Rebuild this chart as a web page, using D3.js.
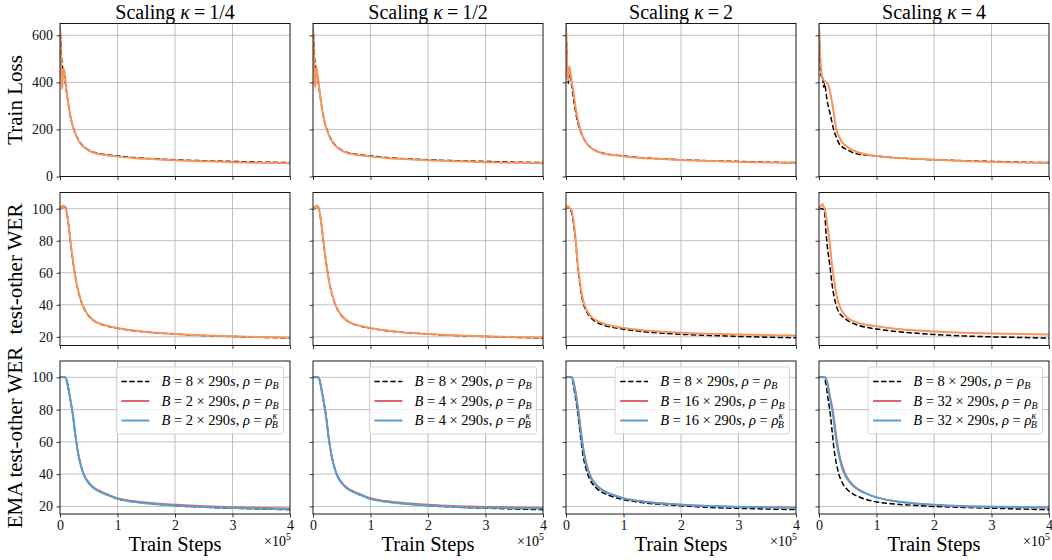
<!DOCTYPE html>
<html>
<head>
<meta charset="utf-8">
<script src="https://cdn.jsdelivr.net/npm/d3@7"></script>
<style>
  body { margin: 0; background: #fff; }
  svg, svg text { font-family: "Liberation Serif", "Times New Roman", serif; }
</style>
</head>
<body>
<script>
// train steps (x 1e5), shared by every curve
var steps = [0, 0.01, 0.02, 0.03, 0.04, 0.05, 0.06, 0.08, 0.1, 0.12, 0.14, 0.16, 0.18, 0.2, 0.23, 0.26, 0.3,
  0.35, 0.4, 0.45, 0.5, 0.6, 0.7, 0.85, 1.0, 1.25, 1.5, 1.75, 2.0, 2.5, 3.0, 3.5, 4.0];

// column headers / legend batch multipliers
var kappaLabels = ["1/4", "1/2", "2", "4"];
var batchMult = [2, 4, 16, 32];
var rowLabels = ["Train Loss", "test-other WER", "EMA test-other WER"];
var xTicks = [0, 1, 2, 3, 4];
var lossTicks = [0, 200, 400, 600];
var werTicks = [20, 40, 60, 80, 100];

// Train loss
var lossBlack1 = [640, 600, 540, 490, 470, 460, 450, 420, 385, 350, 315, 285, 258, 235, 208, 188, 165, 145, 130, 120, 112, 102, 96, 91, 87, 81, 77, 74, 71, 67, 64, 61, 59];
var lossOrange1 = [640, 560, 470, 400, 372, 430, 460, 440, 400, 355, 318, 287, 258, 235, 207, 186, 163, 142, 128, 118, 110, 100, 94, 89, 85, 79, 75, 72, 69, 65, 61, 58, 56];
var lossBlack2 = [640, 600, 540, 490, 470, 460, 450, 420, 385, 350, 315, 285, 258, 235, 208, 188, 165, 145, 130, 120, 112, 102, 96, 91, 87, 81, 77, 74, 71, 67, 64, 61, 59];
var lossOrange2 = [645, 560, 470, 390, 380, 440, 466, 430, 395, 355, 318, 285, 257, 233, 206, 185, 162, 142, 128, 118, 110, 100, 94, 89, 85, 79, 75, 72, 69, 65, 61, 58, 56];
var lossBlack3 = [640, 560, 480, 420, 395, 420, 440, 420, 385, 350, 315, 285, 258, 235, 208, 188, 165, 145, 130, 120, 112, 102, 96, 91, 87, 81, 77, 74, 71, 67, 64, 61, 59];
var lossOrange3 = [640, 560, 470, 420, 410, 450, 466, 440, 400, 372, 340, 305, 275, 248, 218, 192, 165, 144, 129, 119, 111, 101, 95, 90, 86, 80, 76, 73, 70, 66, 62, 59, 57];
var lossBlack4 = [640, 560, 480, 440, 424, 424, 430, 380, 395, 360, 325, 300, 280, 260, 225, 195, 168, 140, 127, 118, 112, 100, 94, 90, 87, 81, 77, 74, 71, 67, 64, 61, 59];
var lossOrange4 = [640, 580, 520, 480, 450, 430, 420, 410, 405, 400, 396, 390, 375, 350, 310, 265, 200, 170, 146, 134, 125, 110, 101, 92, 87, 81, 77, 74, 71, 66, 62, 59, 57];

// test-other WER
var werBlack1 = [100, 100, 100.5, 100, 101, 100.5, 101, 101.5, 100.5, 97, 92, 86.5, 80, 74, 66, 59, 51, 44, 39, 35.5, 33, 29.8, 28, 26.5, 25.4, 24, 23, 22.3, 21.7, 20.8, 20.2, 19.7, 19.3];
var werOrange1 = [100, 101, 100, 101.5, 100.5, 101, 102, 101, 100, 97.5, 92.5, 87, 80.5, 74.5, 66.5, 59, 51.5, 44.5, 39.3, 35.8, 33.2, 30, 28.2, 26.6, 25.5, 24.1, 23.1, 22.4, 21.8, 20.9, 20.3, 19.9, 19.5];
var werBlack2 = [100, 100, 100.5, 100, 101, 100.5, 101, 101.5, 100.5, 97, 92, 86.5, 80, 74, 66, 59, 51, 44, 39, 35.5, 33, 29.8, 28, 26.5, 25.4, 24, 23, 22.3, 21.7, 20.8, 20.2, 19.7, 19.3];
var werOrange2 = [100, 100.5, 101, 100.5, 101.5, 101, 102, 101.5, 100, 97, 92, 86.5, 80, 74, 66, 58.5, 51, 44.2, 39.2, 35.8, 33.2, 30, 28.1, 26.6, 25.5, 24.1, 23.1, 22.4, 21.8, 20.9, 20.3, 19.9, 19.6];
var werBlack3 = [100, 100.5, 101, 100.5, 101, 100.5, 100, 99, 97.5, 93.5, 88, 82, 74.5, 65.5, 56, 48, 41, 36.3, 33.3, 31.3, 29.8, 28, 26.8, 25.6, 24.8, 23.6, 22.7, 22.1, 21.6, 20.9, 20.3, 19.8, 19.4];
var werOrange3 = [100, 100.5, 101.5, 101, 101.5, 101, 100.5, 100, 99, 95, 90, 84, 76, 67, 58, 50, 42.5, 37.5, 34.3, 32.3, 30.8, 29, 27.7, 26.5, 25.6, 24.5, 23.6, 23, 22.5, 21.9, 21.5, 21.1, 20.8];
var werBlack4 = [100, 100, 100, 100, 100, 100, 100, 99.5, 97, 86, 78, 72, 67, 61, 52, 45.5, 39.5, 35, 33, 31.5, 30.2, 28.3, 27, 25.8, 24.9, 23.7, 22.8, 22.1, 21.5, 20.6, 20, 19.6, 19.2];
var werOrange4 = [100, 100.5, 101, 101.5, 102, 102.5, 103, 101, 100, 96, 91, 86.5, 80, 74, 64, 56, 47, 40, 36, 33.5, 31.8, 29.8, 28.5, 27.4, 26.6, 25.4, 24.5, 23.9, 23.3, 22.6, 22.1, 21.8, 21.5];

// EMA test-other WER
var emaBlack1 = [100, 100, 100, 100, 100, 100, 100, 100, 99.5, 97.5, 94, 90, 86, 82, 75, 66, 56, 47, 41, 37, 34.5, 31, 29, 26.8, 24.7, 23, 22, 21.2, 20.5, 19.5, 18.9, 18.4, 18];
var emaRed1 = [100, 100, 100, 100, 100, 100, 100, 100, 99.6, 98, 94.5, 90.5, 86.5, 82.5, 75.5, 66.5, 56.5, 47.5, 41.5, 37.5, 35, 31.5, 29.5, 27.2, 25.2, 23.5, 22.5, 21.7, 21.1, 20.2, 19.6, 19.2, 18.9];
var emaBlue1 = [100, 100, 100, 100, 100, 100, 100, 100, 99.5, 97.6, 94, 90, 86, 82, 75, 66, 56, 47, 41, 37, 34.5, 31, 29, 26.8, 24.7, 23, 22, 21.2, 20.5, 19.6, 19, 18.6, 18.2];
var emaBlack2 = [100, 100, 100, 100, 100, 100, 100, 100, 99.5, 97.5, 94, 90, 86, 82, 75, 66, 56, 47, 41, 37, 34.5, 31, 29, 26.8, 24.7, 23, 22, 21.2, 20.5, 19.5, 18.9, 18.4, 18];
var emaRed2 = [100, 100, 100, 100, 100, 100, 100, 100, 99.6, 98, 94.5, 90.5, 86.5, 82.5, 75.5, 66.5, 56.5, 47.5, 41.5, 37.5, 35, 31.5, 29.5, 27.2, 25.2, 23.5, 22.5, 21.7, 21.1, 20.3, 19.8, 19.5, 19.2];
var emaBlue2 = [100, 100, 100, 100, 100, 100, 100, 100, 99.5, 97.6, 94, 90, 86, 82, 75, 66, 56, 47, 41, 37, 34.5, 31, 29, 26.8, 24.7, 23, 22, 21.2, 20.6, 19.7, 19.2, 18.9, 18.7];
var emaBlack3 = [100, 100, 100, 100, 100, 100, 100, 100, 99.5, 97, 93, 88.5, 84, 79, 70, 61, 51, 43, 38, 34.5, 32.3, 29.3, 27.5, 25.6, 24.2, 22.7, 21.7, 21, 20.4, 19.4, 18.8, 18.4, 18];
var emaRed3 = [100, 100, 100, 100, 100, 100, 100, 100, 100, 98.8, 96, 92.5, 88.5, 84, 76.5, 67.5, 57, 47.5, 41.5, 37.3, 34.6, 31.1, 29, 26.9, 25.2, 23.5, 22.5, 21.7, 21.1, 20.3, 19.8, 19.5, 19.3];
var emaBlue3 = [100, 100, 100, 100, 100, 100, 100, 100, 100, 98.5, 95.5, 91.5, 87, 82, 74, 65, 55, 46, 40.5, 36.5, 34, 30.7, 28.7, 26.6, 25, 23.3, 22.3, 21.6, 21, 20.2, 19.7, 19.4, 19.2];
var emaBlack4 = [100, 100, 100, 100, 100, 100, 100, 100, 99, 96, 91, 86, 81.5, 76, 66, 56, 47, 39.5, 35, 32, 30.2, 27.5, 25.8, 24, 22.8, 21.7, 21, 20.5, 20, 19.4, 18.9, 18.4, 18];
var emaRed4 = [100, 100, 100, 100, 100, 100, 100, 100, 100, 99.3, 97.8, 95, 91, 87, 82, 75, 64, 53, 46, 41, 37.5, 33, 30.3, 27.6, 25.7, 23.7, 22.5, 21.6, 20.9, 20, 19.6, 19.3, 19.2];
var emaBlue4 = [100, 100, 100, 100, 100, 100, 100, 100, 100, 99, 97, 93, 89, 85, 80, 72, 61, 51, 44, 39.5, 36.5, 32.5, 30, 27.5, 25.6, 23.6, 22.4, 21.6, 21, 20.2, 19.8, 19.6, 19.5];

var colors = { black: "#000000", orange: "#f7955a", red: "#e5636c", blue: "#5b9dcb" };

// panel layout
var colLeft = [60, 313, 566, 819];
var rowTop = [23.5, 192.5, 361];
var panelW = 230;
var panelH = 153;
var serif = "'Liberation Serif', 'Times New Roman', serif";

// rows: y domain, ticks and series per column
var rows = [
  { domain: [0, 650], ticks: lossTicks, series: [
      [{ v: lossBlack1, c: "black" }, { v: lossOrange1, c: "orange" }],
      [{ v: lossBlack2, c: "black" }, { v: lossOrange2, c: "orange" }],
      [{ v: lossBlack3, c: "black" }, { v: lossOrange3, c: "orange" }],
      [{ v: lossBlack4, c: "black" }, { v: lossOrange4, c: "orange" }]] },
  { domain: [14.6, 110.1], ticks: werTicks, series: [
      [{ v: werBlack1, c: "black" }, { v: werOrange1, c: "orange" }],
      [{ v: werBlack2, c: "black" }, { v: werOrange2, c: "orange" }],
      [{ v: werBlack3, c: "black" }, { v: werOrange3, c: "orange" }],
      [{ v: werBlack4, c: "black" }, { v: werOrange4, c: "orange" }]] },
  { domain: [15.3, 110.1], ticks: werTicks, series: [
      [{ v: emaBlack1, c: "black" }, { v: emaRed1, c: "red" }, { v: emaBlue1, c: "blue" }],
      [{ v: emaBlack2, c: "black" }, { v: emaRed2, c: "red" }, { v: emaBlue2, c: "blue" }],
      [{ v: emaBlack3, c: "black" }, { v: emaRed3, c: "red" }, { v: emaBlue3, c: "blue" }],
      [{ v: emaBlack4, c: "black" }, { v: emaRed4, c: "red" }, { v: emaBlue4, c: "blue" }]] }
];

var svg = d3.select("body").append("svg")
  .attr("width", 1052)
  .attr("height", 560)
  .attr("font-family", serif);

var defs = svg.append("defs");
defs.append("clipPath").attr("id", "panelClip")
  .append("rect").attr("x", 0).attr("y", 0).attr("width", panelW).attr("height", panelH);

var xScale = d3.scaleLinear().domain([0, 4]).range([0, panelW]);

rows.forEach(function (row, r) {
  var yScale = d3.scaleLinear().domain(row.domain).range([panelH, 0]);

  var line = d3.line()
    .x(function (d, i) { return xScale(steps[i]); })
    .y(function (d) { return yScale(d); })
    .curve(d3.curveMonotoneX);

  colLeft.forEach(function (left, c) {
    var g = svg.append("g").attr("transform", `translate(${left}, ${rowTop[r]})`);

    // grid lines
    g.append("g").selectAll("line")
      .data([1, 2, 3])
      .enter().append("line")
      .attr("x1", d => xScale(d)).attr("x2", d => xScale(d))
      .attr("y1", 0).attr("y2", panelH)
      .attr("stroke", "#b0b0b0").attr("stroke-width", 0.8);
    g.append("g").selectAll("line")
      .data(row.ticks)
      .enter().append("line")
      .attr("x1", 0).attr("x2", panelW)
      .attr("y1", d => yScale(d)).attr("y2", d => yScale(d))
      .attr("stroke", "#b0b0b0").attr("stroke-width", 0.8);

    // curves
    var plot = g.append("g").attr("clip-path", "url(#panelClip)");
    row.series[c].forEach(function (s) {
      plot.append("path")
        .datum(s.v)
        .attr("d", line)
        .attr("fill", "none")
        .attr("stroke", colors[s.c])
        .attr("stroke-width", s.c == "black" ? 1.5 : (s.c == "red" ? 1.6 : 2))
        .attr("stroke-dasharray", s.c == "black" ? "5.5,2.4" : null)
        .attr("stroke-linejoin", "round");
    });

    // axes
    var yAxis = d3.axisLeft(yScale).tickValues(row.ticks).tickSize(3.5).tickPadding(3.5)
      .tickFormat(c == 0 ? d3.format("d") : "");
    var xAxis = d3.axisBottom(xScale).tickValues(xTicks).tickSize(3.5).tickPadding(2.5)
      .tickFormat(r == 2 ? d3.format("d") : "");
    var ya = g.append("g").call(yAxis);
    var xa = g.append("g").attr("transform", `translate(0, ${panelH})`).call(xAxis);
    [ya, xa].forEach(function (a) {
      a.attr("font-family", serif).attr("font-size", 14);
      a.select(".domain").remove();
      a.selectAll(".tick line").attr("stroke", "#000").attr("stroke-width", 0.8);
      a.selectAll(".tick text").attr("fill", "#111");
    });

    // spines
    g.append("rect")
      .attr("x", 0).attr("y", 0).attr("width", panelW).attr("height", panelH)
      .attr("fill", "none").attr("stroke", "#000").attr("stroke-width", 0.9);

    // column titles
    if (r == 0) {
      var t = svg.append("text")
        .attr("x", left + panelW / 2).attr("y", 18.5)
        .attr("text-anchor", "middle")
        .style("font-size", "20px");
      t.append("tspan").text("Scaling ");
      t.append("tspan").style("font-style", "italic").text("\u03ba");
      t.append("tspan").text("\u2009=\u2009" + kappaLabels[c]);
    }

    // bottom labels
    if (r == 2) {
      svg.append("text")
        .attr("x", left + panelW / 2).attr("y", rowTop[r] + panelH + 37)
        .attr("text-anchor", "middle")
        .style("font-size", "20.5px")
        .text("Train Steps");
      var m = svg.append("text")
        .attr("x", left + panelW + 1).attr("y", rowTop[r] + panelH + 32)
        .attr("text-anchor", "end")
        .style("font-size", "14px");
      m.append("tspan").text("\u00d710");
      m.append("tspan").attr("dy", -6).style("font-size", "10px").text("5");

      addLegend(g, c);
    }
  });

  // row labels
  svg.append("text")
    .attr("transform", `translate(22, ${rowTop[r] + panelH / 2}) rotate(-90)`)
    .attr("text-anchor", "middle")
    .style("font-size", "21px")
    .text(rowLabels[r]);
});

// legend in the EMA row
function addLegend(g, c) {
  var entries = [
    { n: 8, c: "black", kap: false },
    { n: batchMult[c], c: "red", kap: false },
    { n: batchMult[c], c: "blue", kap: true }
  ];
  var lg = g.append("g");
  var box = lg.append("rect");
  var texts = lg.append("g");
  entries.forEach(function (e, i) {
    var cy = 14.5 + i * 19.5;
    lg.append("line")
      .attr("x1", 5).attr("x2", 33).attr("y1", cy).attr("y2", cy)
      .attr("stroke", colors[e.c])
      .attr("stroke-width", e.c == "black" ? 1.5 : 2)
      .attr("stroke-dasharray", e.c == "black" ? "5.5,2.4" : null);
    var t = texts.append("text")
      .attr("x", 45).attr("y", cy + 4.5)
      .style("font-size", "14.5px");
    t.append("tspan").style("font-style", "italic").text("B");
    t.append("tspan").text(" = " + e.n + " \u00d7 290");
    t.append("tspan").style("font-style", "italic").text("s");
    t.append("tspan").text(", ");
    t.append("tspan").style("font-style", "italic").text("\u03c1");
    t.append("tspan").text(" = ");
    t.append("tspan").style("font-style", "italic").text("\u03c1");
    if (e.kap) {
      t.append("tspan").attr("dy", -6).style("font-style", "italic").style("font-size", "10px").text("\u03ba");
      t.append("tspan").attr("dx", -5.5).attr("dy", 9).style("font-style", "italic").style("font-size", "10px").text("B");
    } else {
      t.append("tspan").attr("dy", 3).style("font-style", "italic").style("font-size", "10px").text("B");
    }
  });
  var bb = texts.node().getBBox();
  var w = bb.x + bb.width + 5;
  box.attr("x", 0).attr("y", 0).attr("width", w).attr("height", 67)
    .attr("rx", 2.5)
    .attr("fill", "#fff").attr("fill-opacity", 0.8)
    .attr("stroke", "#cccccc").attr("stroke-width", 0.8);
  lg.attr("transform", `translate(${panelW - 6.5 - w}, 6)`);
}
</script>
</body>
</html>
